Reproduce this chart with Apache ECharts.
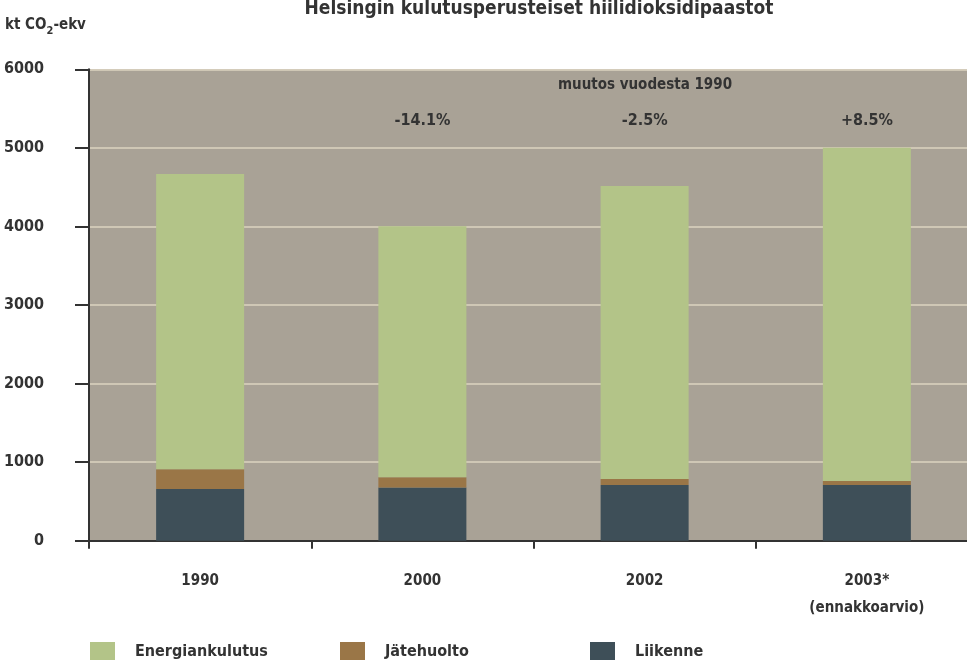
<!DOCTYPE html>
<html>
<head>
<meta charset="utf-8">
<script src="https://cdn.jsdelivr.net/npm/echarts@6/dist/echarts.min.js"></script>
<style>
  html, body { margin: 0; padding: 0; background: #fff; }
  #chart { width: 967px; height: 660px; }
</style>
</head>
<body>
<div id="chart"></div>
<script>
const years = ["1990", "2000", "2002", "2003*\n(ennakkoarvio)"];
const liikenne = [657, 677, 708, 708];
const jatehuolto = [254, 132, 76, 51];
const energiankulutus = [3756, 3194, 3731, 4241];
const changes = ["", "-14.1%", "-2.5%", "+8.5%"];
const changeLevel = [5350, 5350, 5350, 5350];

const FONT = '"Liberation Sans Narrow", "DejaVu Sans Condensed", "Roboto Condensed", sans-serif';
const TXT = "#333";

// one legend per item so they sit at fixed spacing
const legendNames = ["Energiankulutus", "Jätehuolto", "Liikenne"];
const legendLeft = [90, 340, 590];

const chart = echarts.init(document.getElementById("chart"));
const option = {
  animation: false,
  color: ["#b3c488", "#9a7647", "#3e4f58"],
  textStyle: { fontFamily: FONT, fontWeight: "bold", color: TXT },
  title: {
    text: "Helsingin kulutusperusteiset hiilidioksidipaastot",
    left: 534,
    textAlign: "center",
    top: -5,
    textStyle: { fontFamily: FONT, fontWeight: "bold", fontSize: 19, color: TXT },
  },
  legend: legendNames.map((n, i) => ({
    left: legendLeft[i],
    top: 642,
    padding: 0,
    itemWidth: 25,
    itemHeight: 20,
    icon: "rect",
    data: [n],
    textStyle: {
      fontFamily: FONT, fontWeight: "bold", fontSize: 16, color: TXT,
      padding: [0, 0, 0, 15],
    },
  })),
  graphic: [
    {
      type: "text", left: 5, top: 18,
      style: {
        text: "{a|kt CO}{s|2}{a|-ekv}",
        rich: {
          a: { fontFamily: FONT, fontWeight: "bold", fontSize: 15, fill: TXT },
          s: { fontFamily: FONT, fontWeight: "bold", fontSize: 11, fill: TXT, padding: [12, 0, 0, 0] },
        },
      },
    },
    {
      type: "text", x: 645, y: 85,
      style: {
        text: "muutos vuodesta 1990",
        fontFamily: FONT, fontWeight: "bold", fontSize: 15, fill: TXT,
        align: "center", verticalAlign: "middle",
      },
    },
  ],
  grid: {
    left: 89,
    right: -11,
    top: 69.3,
    bottom: 119.3,
    outerBoundsMode: "none",
    containLabel: false,
    show: true,
    backgroundColor: "#a9a296",
    borderWidth: 0,
  },
  xAxis: {
    type: "category",
    data: years,
    axisLine: { lineStyle: { color: "#333", width: 2 } },
    axisTick: { show: true, length: 8, lineStyle: { color: "#333", width: 2 } },
    axisLabel: {
      margin: 27, fontFamily: FONT, fontWeight: "bold", fontSize: 15,
      color: TXT, lineHeight: 27,
    },
  },
  yAxis: {
    type: "value",
    min: 0,
    max: 6000,
    interval: 1000,
    axisLine: { show: true, lineStyle: { color: "#333", width: 2 } },
    axisTick: { show: true, length: 14, lineStyle: { color: "#333", width: 2 } },
    axisLabel: {
      margin: 45, fontFamily: FONT, fontWeight: "bold", fontSize: 16, color: TXT,
      formatter: (v) => String(v),
    },
    splitLine: { lineStyle: { color: "#ddd3bf", width: 1.5 } },
  },
  series: [
    { name: "Liikenne", type: "bar", stack: "tot", data: liikenne, barWidth: 88, itemStyle: { color: "#3e4f58" } },
    { name: "Jätehuolto", type: "bar", stack: "tot", data: jatehuolto, barWidth: 88, itemStyle: { color: "#9a7647" } },
    { name: "Energiankulutus", type: "bar", stack: "tot", data: energiankulutus, barWidth: 88, itemStyle: { color: "#b3c488" } },
    {
      type: "scatter",
      data: changeLevel,
      symbolSize: 0,
      silent: true,
      itemStyle: { opacity: 1 },
      label: {
        show: true,
        position: "inside",
        formatter: (p) => changes[p.dataIndex],
        fontFamily: FONT, fontWeight: "bold", fontSize: 16, color: TXT,
        textBorderWidth: 0,
      },
    },
  ],
};
chart.setOption(option);
</script>
</body>
</html>
